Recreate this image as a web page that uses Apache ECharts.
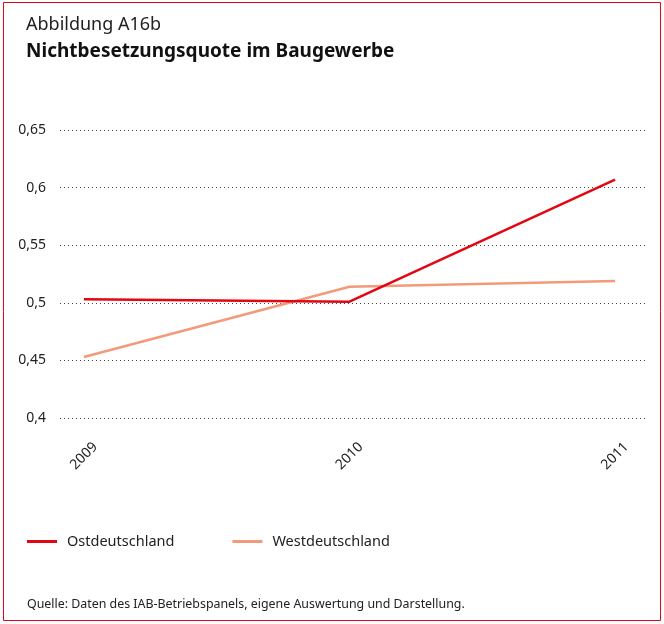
<!DOCTYPE html>
<html>
<head>
<meta charset="utf-8">
<script src="https://cdn.jsdelivr.net/npm/echarts@6/dist/echarts.min.js"></script>
<style>
  html, body { margin: 0; padding: 0; background: #fff; }
  #main { width: 664px; height: 624px; }
</style>
</head>
<body>
<div id="main"></div>
<script>
// Daten
var jahre = [2009, 2010, 2011];
var ost = [0.503, 0.501, 0.607];
var west = [0.453, 0.514, 0.519];
var yTicks = [0.4, 0.45, 0.5, 0.55, 0.6, 0.65];

var FONT = '"Noto Sans", "Open Sans", sans-serif';

var myChart = echarts.init(document.getElementById('main'));

function pairs(vals) {
    return jahre.map(function (j, i) { return [j, vals[i]]; });
}

option = {
    backgroundColor: '#fff',
    textStyle: { fontFamily: FONT },
    title: [
        {
            text: 'Abbildung A16b',
            left: 21, top: 11,
            textStyle: { fontSize: 18, fontWeight: 'normal', color: '#222', fontFamily: FONT }
        },
        {
            text: 'Nichtbesetzungsquote im Baugewerbe',
            left: 21, top: 37,
            textStyle: { fontSize: 19, fontWeight: 'bold', color: '#111', fontFamily: FONT }
        },
        {
            text: 'Quelle: Daten des IAB-Betriebspanels, eigene Auswertung und Darstellung.',
            left: 22, top: 593,
            textStyle: { fontSize: 12.4, fontWeight: 'normal', color: '#222', fontFamily: FONT }
        }
    ],
    graphic: [
        {
            type: 'rect',
            shape: { x: 3.5, y: 2.5, width: 657, height: 618 },
            style: { fill: 'none', stroke: '#e30613', lineWidth: 1 },
            silent: true
        }
    ],
    legend: {
        left: 22, top: 529,
        itemWidth: 30, itemHeight: 3,
        itemGap: 58,
        icon: 'rect',
        textStyle: { fontSize: 14.5, color: '#222', fontFamily: FONT, padding: [0, 0, 0, 5] },
        data: ['Ostdeutschland', 'Westdeutschland']
    },
    grid: { left: 60, right: 16, top: 130, bottom: 206 },
    xAxis: {
        type: 'value',
        min: 2008.91,
        max: 2011.124,
        splitLine: { show: false },
        axisLine: { show: false },
        axisTick: { show: false },
        axisLabel: {
            customValues: jahre,
            rotate: 45,
            align: 'center',
            verticalAlign: 'middle',
            margin: 38,
            fontSize: 14,
            color: '#222',
            fontFamily: FONT,
            formatter: function (v) { return String(v); }
        }
    },
    yAxis: {
        type: 'value',
        min: 0.4,
        max: 0.65,
        interval: 0.05,
        axisLine: { show: false },
        axisTick: { show: false },
        axisLabel: {
            margin: 14,
            fontSize: 14,
            color: '#222',
            fontFamily: FONT,
            formatter: function (v) {
                return String(Math.round(v * 100) / 100).replace('.', ',');
            }
        },
        splitLine: {
            lineStyle: { color: '#444', type: [1, 3], width: 1 }
        }
    },
    series: [
        {
            name: 'Ostdeutschland',
            type: 'line',
            symbol: 'none',
            data: pairs(ost),
            lineStyle: { color: '#e30613', width: 2.5 },
            itemStyle: { color: '#e30613' },
            z: 3
        },
        {
            name: 'Westdeutschland',
            type: 'line',
            symbol: 'none',
            data: pairs(west),
            lineStyle: { color: '#f39a7a', width: 2.5 },
            itemStyle: { color: '#f39a7a' },
            z: 2
        }
    ],
    animation: false
};

myChart.setOption(option);
</script>
</body>
</html>
